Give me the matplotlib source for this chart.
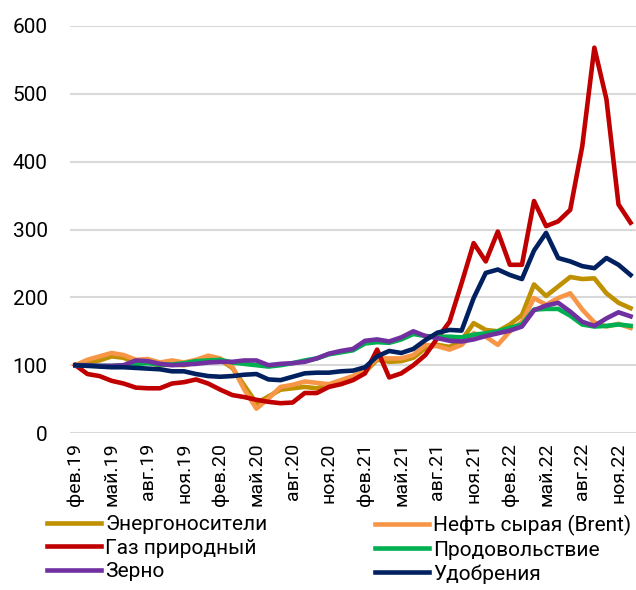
import matplotlib
matplotlib.use('Agg')
import matplotlib.pyplot as plt

plt.rcParams['font.family'] = ['Roboto', 'DejaVu Sans']

# monthly index, feb.2019 = 100
months = ['фев', 'мар', 'апр', 'май', 'июн', 'июл', 'авг', 'сен', 'окт', 'ноя', 'дек', 'янв']
dates = []
for k in range(47):
    m = (1 + k) % 12
    yr = 19 + (1 + k) // 12
    dates.append(months[(m - 1) % 12] + '.' + str(yr))

energy = [100, 104, 107, 113, 111, 103, 104, 100, 101, 100, 104, 108, 108, 96, 70, 44,
          54, 64, 66, 68, 66, 71, 76, 81, 90, 108, 105, 106, 111, 125, 130, 127,
          137, 162, 152, 150, 160, 174, 219, 202, 216, 230, 227, 228, 206, 192, 184]
brent = [100, 108, 113, 118, 115, 108, 109, 104, 107, 104, 108, 114, 110, 98, 64, 36,
         51, 68, 71, 76, 74, 72, 78, 84, 93, 110, 110, 110, 115, 130, 128, 123,
         130, 147, 142, 130, 150, 164, 199, 189, 199, 206, 182, 163, 157, 161, 155]
gas = [100, 87, 84, 77, 73, 67, 66, 66, 73, 75, 79, 73, 64, 56, 53, 49,
       46, 44, 45, 59, 59, 68, 72, 78, 88, 123, 82, 88, 100, 115, 140, 164,
       221, 280, 253, 297, 248, 248, 342, 305, 312, 329, 423, 568, 492, 337, 310]
food = [100, 100, 99, 99, 100, 102, 103, 101, 101, 103, 106, 107, 108, 104, 102, 100,
        98, 100, 103, 107, 110, 116, 119, 122, 132, 134, 133, 138, 146, 143, 142, 142,
        141, 145, 147, 150, 155, 160, 182, 183, 183, 173, 160, 157, 158, 160, 158]
grain = [100, 100, 99, 99, 100, 107, 106, 102, 100, 101, 102, 104, 105, 105, 107, 107,
         100, 102, 103, 105, 110, 117, 121, 124, 136, 138, 135, 141, 150, 143, 140, 136,
         135, 138, 143, 147, 151, 157, 181, 188, 192, 179, 164, 158, 169, 178, 172]
fert = [100, 99, 98, 97, 97, 96, 95, 94, 91, 91, 87, 84, 83, 84, 86, 87,
        79, 78, 83, 88, 89, 89, 91, 92, 97, 113, 121, 118, 124, 137, 148, 152,
        151, 199, 236, 241, 233, 227, 269, 295, 258, 253, 246, 243, 258, 248, 233]

series = [
    ('Энергоносители', energy, '#BF9000'),
    ('Нефть сырая (Brent)', brent, '#F79646'),
    ('Газ природный', gas, '#C00000'),
    ('Продовольствие', food, '#00B050'),
    ('Зерно', grain, '#7030A0'),
    ('Удобрения', fert, '#002060'),
]

fig = plt.figure(figsize=(6.36, 5.9), dpi=100)
ax = fig.add_axes([0.110, 0.266, 0.890, 0.690])

x = list(range(len(dates)))
lines = {}
for name, vals, col in series:
    lines[name], = ax.plot(x, vals, color=col, lw=3.3, label=name, solid_joinstyle='round')

ax.set_xlim(-0.45, 46.45)
ax.set_ylim(0, 600)
ax.set_yticks(range(0, 601, 100))
ax.set_xticks(x[::3])
ax.set_xticklabels(dates[::3], rotation=90, fontsize=14)
ax.tick_params(axis='y', length=0, pad=16, labelsize=15)
ax.tick_params(axis='x', length=0, pad=7)
ax.grid(axis='y', color='#d9d9d9', lw=1.5)
ax.set_axisbelow(True)
for s in ax.spines.values():
    s.set_visible(False)

col1 = ['Энергоносители', 'Газ природный', 'Зерно']
col2 = ['Нефть сырая (Brent)', 'Продовольствие', 'Удобрения']
for names, xa in [(col1, 47 / 636), (col2, 375 / 636)]:
    fig.legend([lines[n] for n in names], names, loc='upper left',
               bbox_to_anchor=(xa, 1 - 515 / 590), frameon=False, fontsize=15,
               borderpad=0, borderaxespad=0, handlelength=2.6, handletextpad=0.2,
               labelspacing=0.22)

fig.savefig('out.png', dpi=100)
